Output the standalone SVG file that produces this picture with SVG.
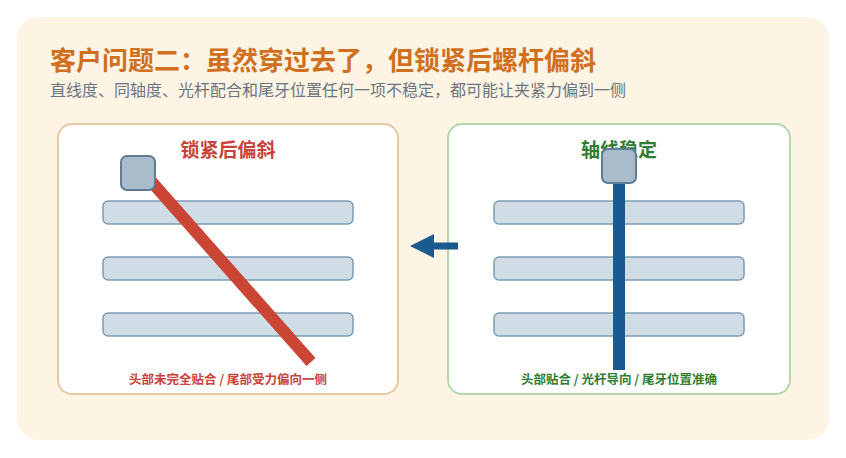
<svg xmlns="http://www.w3.org/2000/svg" width="846" height="458" viewBox="0 0 846 458">
<style>
text{font-family:"Noto Sans CJK SC","Noto Sans",sans-serif;font-weight:bold}
.bar{fill:#cfdde7;stroke:#7f9cb4;stroke-width:1.5}
.head{fill:#a8bccb;stroke:#5f7c94;stroke-width:2}
</style>
<rect x="17" y="17" width="812" height="423" rx="22" fill="#fef4e4"/>
<text x="50" y="70" font-size="26" fill="#d0701e">客户问题二：虽然穿过去了，但锁紧后螺杆偏斜</text>
<text x="50" y="96" font-size="16" fill="#6b7480" style="font-weight:normal">直线度、同轴度、光杆配合和尾牙位置任何一项不稳定，都可能让夹紧力偏到一侧</text>
<g id="left">
<rect x="58" y="124" width="340" height="270" rx="14" fill="#fff" stroke="#e6c9a1" stroke-width="2"/>
<text x="228" y="157" font-size="19" fill="#c9433a" text-anchor="middle">锁紧后偏斜</text>
<rect class="bar" x="103" y="201" width="250" height="23" rx="5"/>
<rect class="bar" x="103" y="257" width="250" height="23" rx="5"/>
<rect class="bar" x="103" y="313" width="250" height="23" rx="5"/>
<line x1="150" y1="180" x2="311" y2="362" stroke="#cb4535" stroke-width="12"/>
<rect class="head" x="121" y="156" width="34" height="34" rx="6"/>
<text x="228" y="384" font-size="12.5" fill="#c9433a" text-anchor="middle">头部未完全贴合 / 尾部受力偏向一侧</text>
</g>
<g id="right">
<rect x="448" y="124" width="342" height="270" rx="14" fill="#fff" stroke="#b5d6ad" stroke-width="2"/>
<text x="619" y="157" font-size="19" fill="#2e7d32" text-anchor="middle">轴线稳定</text>
<rect class="bar" x="494" y="201" width="250" height="23" rx="5"/>
<rect class="bar" x="494" y="257" width="250" height="23" rx="5"/>
<rect class="bar" x="494" y="313" width="250" height="23" rx="5"/>
<rect x="613" y="180" width="12" height="190" fill="#1b5a8e"/>
<rect class="head" x="602" y="149" width="34" height="34" rx="6"/>
<text x="619" y="384" font-size="12.5" fill="#2e7d32" text-anchor="middle">头部贴合 / 光杆导向 / 尾牙位置准确</text>
</g>
<g id="connectors">
<line x1="458" y1="246" x2="430" y2="246" stroke="#1b5a8e" stroke-width="7"/>
<polygon points="410,246 434,234 434,258" fill="#1b5a8e"/>
</g>
</svg>
